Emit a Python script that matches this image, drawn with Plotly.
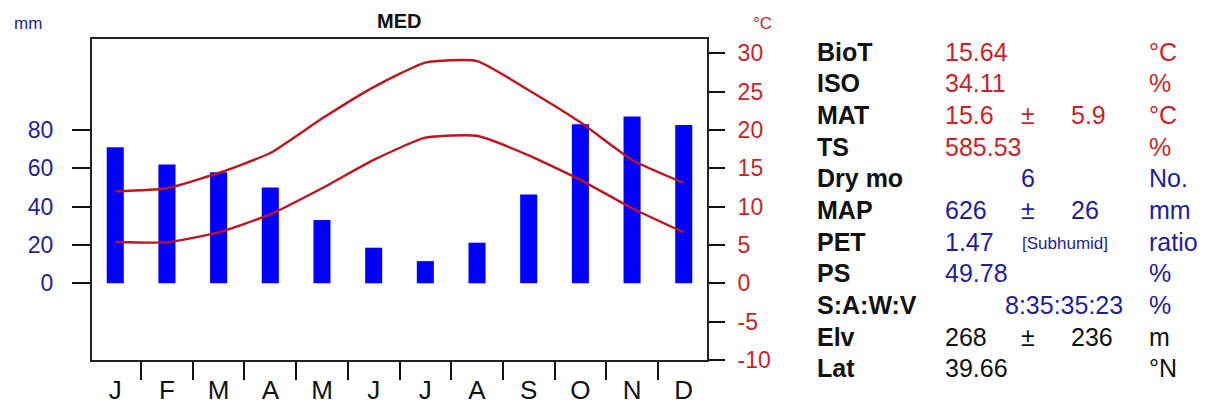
import plotly.graph_objects as go

# ---------------- data ----------------
months = ["J", "F", "M", "A", "M", "J", "J", "A", "S", "O", "N", "D"]
month_num = list(range(1, 13))
precip_mm = [71, 62, 58, 50, 33, 18.6, 11.6, 21.2, 46.4, 83, 87, 82.6]
tmax_c = [12.0, 12.4, 14.4, 17.0, 21.5, 25.6, 28.8, 29.0, 25.2, 21.0, 16.1, 13.1]
tmin_c = [5.4, 5.35, 6.65, 9.0, 12.4, 16.1, 19.0, 19.25, 16.7, 13.5, 9.8, 6.65]
precip_ticks = [0, 20, 40, 60, 80]
temp_ticks = [-10, -5, 0, 5, 10, 15, 20, 25, 30]
temp_tick_labels = ["-10", "-5", "0", "5", "10", "15", "20", "25", "30"]
month_bounds = [m + 0.5 for m in month_num[:-1]]

stat_labels = ["BioT", "ISO", "MAT", "TS", "Dry mo", "MAP", "PET", "PS", "S:A:W:V", "Elv", "Lat"]
stat_values = ["15.64", "34.11", "15.6", "585.53", "", "626", "1.47", "49.78", "", "268", "39.66"]
stat_pm = ["", "", "±", "", "6", "±", "", "", "", "±", ""]
stat_sd = ["", "", "5.9", "", "", "26", "", "", "", "236", ""]
stat_units = ["°C", "%", "°C", "%", "No.", "mm", "ratio", "%", "%", "m", "°N"]
stat_groups = ["t", "t", "t", "t", "p", "p", "p", "p", "p", "k", "k"]
saw_text = "8:35:35:23"
pet_class = "[Subhumid]"

# ---------------- style ----------------
FONT = "Liberation Sans, Arial, sans-serif"
RED = "#CC1F26"
LINE_RED = "#BE151C"
BLUE_TXT = "#1E1E9C"
OFF = 8                      # page body margin of the browser
W, H = 1208 - OFF, 405 - OFF
# plot box in screen pixels
L, R, T, B = 92, 707, 39, 360

def px(x):
    return (x - L) / (R - L)

def py(y):
    return (B - y) / (B - T)

fig = go.Figure()
fig.add_trace(go.Bar(x=month_num, y=precip_mm, width=0.33,
                     marker=dict(color="#0000FF", line=dict(width=0)),
                     yaxis="y", showlegend=False))
for series in (tmax_c, tmin_c):
    fig.add_trace(go.Scatter(x=month_num, y=series, mode="lines",
                             line=dict(color=LINE_RED, width=2.4, shape="spline", smoothing=0.5),
                             yaxis="y2", showlegend=False))

fig.update_layout(
    template="none",
    width=W, height=H,
    margin=dict(l=L - OFF, r=W - (R - OFF), t=T - OFF, b=H - (B - OFF), pad=0, autoexpand=False),
    paper_bgcolor="white", plot_bgcolor="white",
    font=dict(family=FONT),
    xaxis=dict(range=[0.55, 12.45], tickmode="array", tickvals=month_num, ticktext=months,
               ticks="outside", ticklen=6, tickcolor="rgba(0,0,0,0)",
               tickfont=dict(size=26, color="#111"),
               minor=dict(tickmode="array", tickvals=month_bounds, ticks="outside",
                          ticklen=18, tickwidth=2, tickcolor="#111"),
               showline=True, linecolor="#222", linewidth=2, mirror=True,
               showgrid=False, zeroline=False, automargin=False),
    yaxis=dict(range=[-40, 127.5], tickmode="array", tickvals=precip_ticks,
               ticks="outside", ticklen=18, tickwidth=2, tickcolor="#111",
               ticklabelstandoff=14,
               tickfont=dict(size=23, color=BLUE_TXT),
               showline=True, linecolor="#222", linewidth=2,
               showgrid=False, zeroline=False, automargin=False),
    yaxis2=dict(range=[-10, 31.875], overlaying="y", side="right", anchor="x",
                tickmode="array", tickvals=temp_ticks, ticktext=temp_tick_labels,
                ticks="outside", ticklen=16, tickwidth=2, tickcolor="#111",
                ticklabelstandoff=8,
                tickfont=dict(size=23, color=RED),
                showline=True, linecolor="#222", linewidth=2,
                showgrid=False, zeroline=False, automargin=False),
)

ann = []
ann.append(dict(text="<b>MED</b>", x=px(398.5), y=py(21.5), xref="paper", yref="paper",
                showarrow=False, xanchor="center", yanchor="middle",
                font=dict(size=20, color="#111", family=FONT)))
ann.append(dict(text="mm", x=px(12), y=py(23), xref="paper", yref="paper",
                showarrow=False, xanchor="left", yanchor="middle",
                font=dict(size=17, color=BLUE_TXT, family=FONT)))
ann.append(dict(text="°C", x=px(751), y=py(23), xref="paper", yref="paper",
                showarrow=False, xanchor="left", yanchor="middle",
                font=dict(size=17, color=RED, family=FONT)))

color_of = {"t": RED, "p": BLUE_TXT, "k": "#111"}
row0, step = 51.7, 31.66
FS = 25
for i, lab in enumerate(stat_labels):
    yy = py(row0 + step * i)
    c = color_of[stat_groups[i]]
    def add(text, x, col, anchor="left", size=FS, bold=False, dy=0):
        ann.append(dict(text=("<b>%s</b>" % text) if bold else text,
                        x=px(x), y=yy + dy, xref="paper", yref="paper",
                        showarrow=False, xanchor=anchor, yanchor="middle",
                        font=dict(size=size, color=col, family=FONT)))
    add(lab, 815, "#111", bold=True)
    if stat_values[i]:
        add(stat_values[i], 943, c)
    if stat_pm[i]:
        add(stat_pm[i], 1027.5, c, anchor="center")
    if stat_sd[i]:
        add(stat_sd[i], 1069, c)
    add(stat_units[i], 1147, c)
    if lab == "S:A:W:V":
        add(saw_text, 1003, c)
    if lab == "PET":
        add(pet_class, 1020, c, size=17, dy=-(2 / (B - T)))

fig.update_layout(annotations=ann)
fig.write_html("out.html")
